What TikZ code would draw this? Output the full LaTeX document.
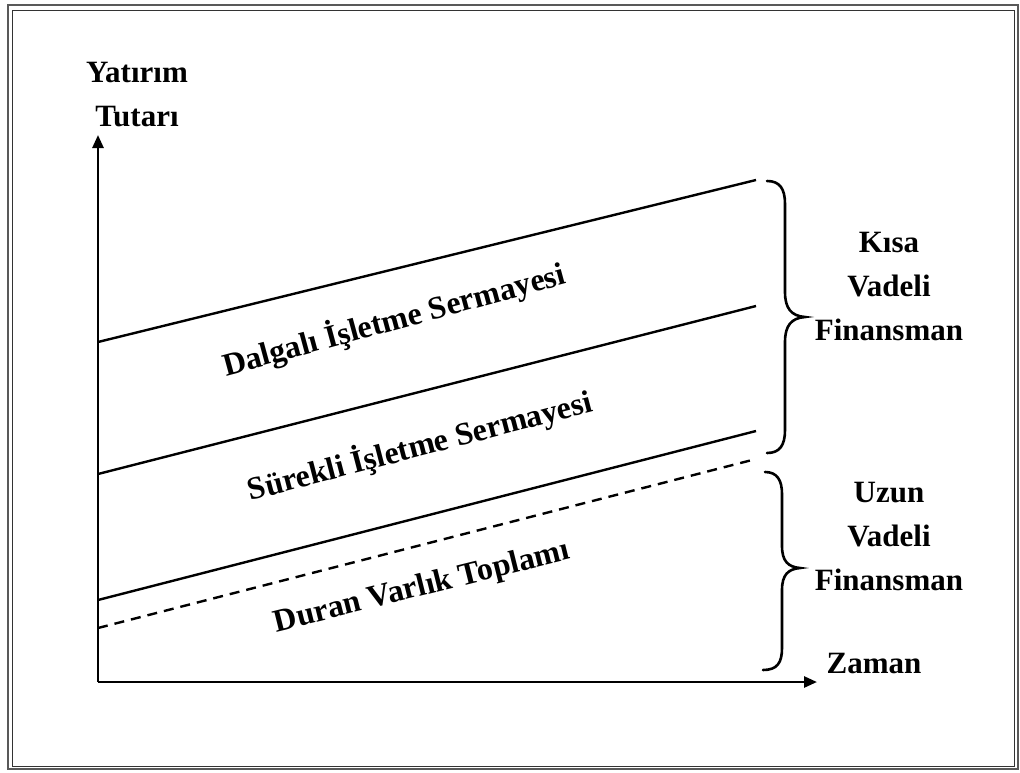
\documentclass[tikz,border=0pt]{standalone}
\usepackage{fontspec}
\setmainfont{Liberation Serif}
\usetikzlibrary{arrows.meta}
\begin{document}
\begin{tikzpicture}[x=1pt,y=-1pt,
  axis/.style={line width=2.6pt,-{Triangle[length=13pt,width=11pt]}},
  level/.style={line width=2.4pt},
  dashlevel/.style={line width=2.4pt,dash pattern=on 10pt off 7pt},
  bracestyle/.style={line width=2.6pt,line cap=round},
  lbl/.style={font=\fontsize{31}{44}\selectfont\bfseries,align=center,inner sep=0pt},
  slab/.style={font=\fontsize{32}{36}\selectfont\bfseries,inner sep=0pt}]
\useasboundingbox (0,0) rectangle (1020,772);
% frame
\draw[line width=2.5pt,black!65] (8,5) rectangle (1018,769);
\draw[line width=1pt,black!80] (12,10) rectangle (1014,766);
% axes
\coordinate (O) at (98,682);
\coordinate (ytip) at (98,135);
\coordinate (xtip) at (817,682);
\draw[axis] (O) -- (ytip);
\draw[axis] (O) -- (xtip);
% level lines
\coordinate (a1) at (98,342); \coordinate (b1) at (756,180);
\coordinate (a2) at (98,474); \coordinate (b2) at (756,306);
\coordinate (a3) at (98,600); \coordinate (b3) at (756,431);
\coordinate (a4) at (98,628); \coordinate (b4) at (756,459);
\draw[level] (a1) -- (b1);
\draw[level] (a2) -- (b2);
\draw[level] (a3) -- (b3);
\draw[dashlevel] (a4) -- (b4);
% slanted labels
\node[slab,rotate=15.2] (dal) at (394,320) {Dalgalı İşletme Sermayesi};
\node[slab,rotate=14.6] (sur) at (420,446) {Sürekli İşletme Sermayesi};
\node[slab,rotate=14] (dur) at (422,588) {Duran Varlık Toplamı};
% braces
\draw[bracestyle] (767,181) .. controls (780,181) and (785,189) .. (785,204)
  -- (785,292) .. controls (785,308) and (791,316) .. (805,317)
  .. controls (791,318) and (785,326) .. (785,342)
  -- (785,430) .. controls (785,445) and (780,453) .. (767,453);
\draw[bracestyle] (765,472) .. controls (777,472) and (782,480) .. (782,494)
  -- (782,546) .. controls (782,561) and (788,567) .. (800,568)
  .. controls (788,569) and (782,575) .. (782,590)
  -- (782,648) .. controls (782,663) and (777,670) .. (763,670);
% labels
\node[lbl] (yl) at (137,95) {Yatırım\\Tutarı};
\node[lbl] (kv) at (889,286) {Kısa\\Vadeli\\Finansman};
\node[lbl] (uv) at (889,536) {Uzun\\Vadeli\\Finansman};
\node[lbl] (za) at (874,663) {Zaman};
\end{tikzpicture}
\end{document}
